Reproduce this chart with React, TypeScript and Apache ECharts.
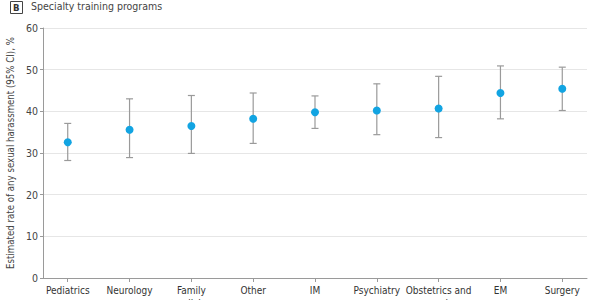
import React, { useEffect, useRef } from "react";
import * as echarts from "echarts";

const programs = [
  "Pediatrics",
  "Neurology",
  "Family\nmedicine",
  "Other",
  "IM",
  "Psychiatry",
  "Obstetrics and\ngynecology",
  "EM",
  "Surgery",
];
const estimates = [32.6, 35.6, 36.5, 38.2, 39.8, 40.2, 40.7, 44.4, 45.4];
const ciLower = [28.2, 28.9, 29.9, 32.3, 35.9, 34.4, 33.7, 38.2, 40.2];
const ciUpper = [37.1, 43.0, 43.8, 44.4, 43.7, 46.6, 48.4, 50.9, 50.6];
const yTicks = [0, 10, 20, 30, 40, 50, 60];

const FONT = "'DejaVu Sans Condensed', 'Liberation Sans Narrow', sans-serif";
const GRAY = "#9a9a9a";
const BLUE = "#12a4e2";

export default function App() {
  const ref = useRef<HTMLDivElement>(null);

  useEffect(() => {
    if (!ref.current) return;
    const chart = echarts.init(ref.current, null, { renderer: "svg" });
    const idx = programs.map((_, i) => i);

    chart.setOption({
      animation: false,
      backgroundColor: "#ffffff",
      textStyle: { fontFamily: FONT },
      grid: { left: 43, right: 13, top: 28, bottom: 22, outerBoundsMode: "none", containLabel: false },
      graphic: [
        {
          type: "rect",
          left: 10,
          top: 1,
          shape: { width: 12, height: 12 },
          style: { fill: "#fff", stroke: "#444", lineWidth: 1 },
        },
        {
          type: "text",
          left: 13,
          top: 2,
          style: { text: "B", font: `bold 9.5px ${FONT}`, fill: "#333" },
        },
        {
          type: "text",
          left: 31,
          top: 0.5,
          style: { text: "Specialty training programs", font: `10.5px ${FONT}`, fill: "#444" },
        },
      ],
      xAxis: {
        type: "value",
        min: -0.4,
        max: 8.4,
        splitLine: { show: false },
        axisLine: { show: true, onZero: false, lineStyle: { color: GRAY, width: 1 } },
        axisTick: { show: true, customValues: idx, length: 4, lineStyle: { color: GRAY } },
        axisLabel: {
          customValues: idx,
          formatter: (v: number) => programs[Math.round(v)] ?? "",
          color: "#333",
          fontSize: 10,
          fontFamily: FONT,
          lineHeight: 13,
          margin: 6,
          verticalAlign: "top",
        },
      },
      yAxis: {
        type: "value",
        min: 0,
        max: 60,
        interval: 10,
        name: "Estimated rate of any sexual harassment (95% CI), %",
        nameLocation: "middle",
        nameGap: 18,
        nameTextStyle: { color: "#444", fontSize: 9.6, fontFamily: FONT },
        axisLine: { show: true, onZero: false, lineStyle: { color: GRAY, width: 1 } },
        axisTick: { show: true, length: 3, lineStyle: { color: GRAY } },
        axisLabel: {
          color: "#444",
          fontSize: 10.5,
          fontFamily: FONT,
          margin: 5,
          formatter: (v: number) => (yTicks.includes(v) ? String(v) : ""),
        },
        splitLine: { show: true, lineStyle: { color: "#e6e6e6", width: 1 } },
      },
      series: [
        {
          type: "custom",
          name: "95% CI",
          data: idx.map((i) => [i, ciLower[i], ciUpper[i]]),
          renderItem: (params: any, api: any) => {
            const x = api.value(0);
            const lo = api.coord([x, api.value(1)]);
            const hi = api.coord([x, api.value(2)]);
            const cap = 3.5;
            const style = { stroke: GRAY, lineWidth: 1.2, fill: "none" };
            return {
              type: "group",
              children: [
                { type: "line", shape: { x1: lo[0], y1: lo[1], x2: hi[0], y2: hi[1] }, style },
                { type: "line", shape: { x1: lo[0] - cap, y1: lo[1], x2: lo[0] + cap, y2: lo[1] }, style },
                { type: "line", shape: { x1: hi[0] - cap, y1: hi[1], x2: hi[0] + cap, y2: hi[1] }, style },
              ],
            };
          },
          z: 2,
        },
        {
          type: "scatter",
          name: "Estimate",
          data: idx.map((i) => [i, estimates[i]]),
          symbol: "circle",
          symbolSize: 8,
          itemStyle: { color: BLUE, opacity: 1 },
          z: 3,
        },
      ],
    });

    return () => chart.dispose();
  }, []);

  return <div ref={ref} style={{ width: 600, height: 300, position: "absolute", left: 0, top: 0 }} />;
}
